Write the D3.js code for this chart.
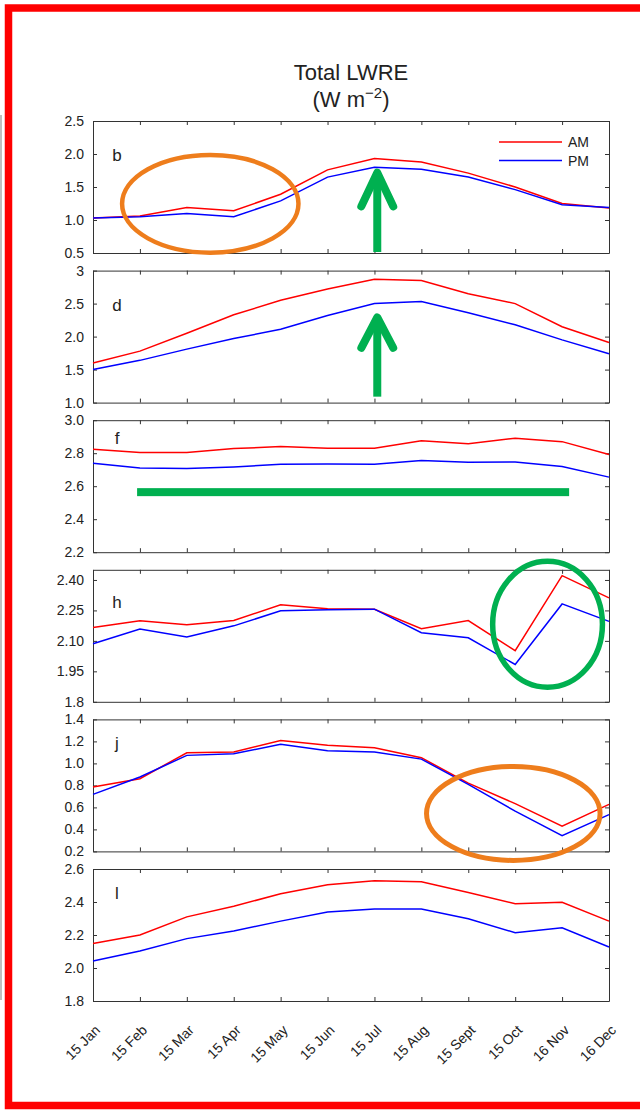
<!DOCTYPE html>
<head>
  <meta charset="utf-8">
  <script src="https://d3js.org/d3.v7.min.js"></script>
  <style>
    body { margin: 0; background: #fff; }
    svg text { font-family: "Liberation Sans", Arial, sans-serif; fill: #222; }
    .axis path, .axis line { stroke: #333; stroke-width: 1; }
    .axis text { font-size: 14px; fill: #222; }
  </style>
</head>
<body>
<div id="chart"></div>
<script>
// month labels on the x axis
var months = ["15 Jan", "15 Feb", "15 Mar", "15 Apr", "15 May", "15 Jun",
              "15 Jul", "15 Aug", "15 Sept", "15 Oct", "16 Nov", "16 Dec"];

// panel letters
var letters = ["b", "d", "f", "h", "j", "l"];

// AM / PM values per panel (W m-2)
var amB = [1.03, 1.06, 1.19, 1.14, 1.39, 1.76, 1.93, 1.88, 1.71, 1.50, 1.25, 1.18];
var pmB = [1.03, 1.05, 1.10, 1.05, 1.29, 1.65, 1.80, 1.77, 1.65, 1.46, 1.23, 1.19];
var amD = [1.60, 1.78, 2.05, 2.33, 2.55, 2.72, 2.87, 2.85, 2.65, 2.50, 2.15, 1.91];
var pmD = [1.50, 1.64, 1.81, 1.97, 2.11, 2.32, 2.50, 2.53, 2.36, 2.18, 1.95, 1.74];
var amF = [2.824, 2.804, 2.804, 2.828, 2.840, 2.830, 2.830, 2.875, 2.858, 2.891, 2.870, 2.792];
var pmF = [2.739, 2.711, 2.707, 2.717, 2.733, 2.735, 2.733, 2.756, 2.745, 2.747, 2.720, 2.655];
var amH = [2.166, 2.199, 2.179, 2.200, 2.278, 2.258, 2.256, 2.160, 2.200, 2.052, 2.421, 2.312];
var pmH = [2.086, 2.158, 2.119, 2.174, 2.248, 2.253, 2.256, 2.140, 2.115, 1.984, 2.282, 2.196];
var amJ = [0.785, 0.861, 1.097, 1.103, 1.209, 1.165, 1.143, 1.052, 0.82, 0.634, 0.430, 0.627];
var pmJ = [0.718, 0.876, 1.073, 1.088, 1.173, 1.115, 1.103, 1.039, 0.81, 0.566, 0.343, 0.534];
var amL = [2.148, 2.200, 2.310, 2.374, 2.450, 2.505, 2.529, 2.523, 2.458, 2.390, 2.398, 2.284];
var pmL = [2.043, 2.103, 2.178, 2.224, 2.284, 2.340, 2.358, 2.358, 2.298, 2.214, 2.244, 2.127];

// y domains and tick labels per panel
var yDomains = [[0.5, 2.5], [1.0, 3.0], [2.2, 3.0], [1.8, 2.45], [0.2, 1.4], [1.8, 2.6]];
var yTicks = [
  [0.5, 1.0, 1.5, 2.0, 2.5],
  [1.0, 1.5, 2.0, 2.5, 3.0],
  [2.2, 2.4, 2.6, 2.8, 3.0],
  [1.8, 1.95, 2.10, 2.25, 2.40],
  [0.2, 0.4, 0.6, 0.8, 1.0, 1.2, 1.4],
  [1.8, 2.0, 2.2, 2.4, 2.6]
];
var yTickLabels = [
  ["0.5", "1.0", "1.5", "2.0", "2.5"],
  ["1.0", "1.5", "2.0", "2.5", "3"],
  ["2.2", "2.4", "2.6", "2.8", "3.0"],
  ["1.8", "1.95", "2.10", "2.25", "2.40"],
  ["0.2", "0.4", "0.6", "0.8", "1.0", "1.2", "1.4"],
  ["1.8", "2.0", "2.2", "2.4", "2.6"]
];

var amSeries = [amB, amD, amF, amH, amJ, amL];
var pmSeries = [pmB, pmD, pmF, pmH, pmJ, pmL];

var width = 640, height = 1110;
var left = 93, right = 609, top0 = 121, panelH = 132, step = 149.6;
// letter offset below panel top
var letterDy = [34, 34, 18, 32, 24, 24];

var svg = d3.select("#chart").append("svg")
    .attr("width", width)
    .attr("height", height);

// red frame around the figure
svg.append("rect")
    .attr("x", 8.5).attr("y", 8)
    .attr("width", 700).attr("height", 1097.5)
    .attr("fill", "none")
    .attr("stroke", "#ff0000")
    .attr("stroke-width", 7.5);

// edge of the neighbouring figure
svg.append("line")
    .attr("x1", 1).attr("x2", 1).attr("y1", 115).attr("y2", 1000)
    .attr("stroke", "#aaa").attr("stroke-width", 1.5);

// title
svg.append("text")
    .attr("x", (left + right) / 2).attr("y", 80)
    .attr("text-anchor", "middle")
    .style("font-size", "22px")
    .text("Total LWRE");
var sub = svg.append("text")
    .attr("x", (left + right) / 2).attr("y", 107)
    .attr("text-anchor", "middle")
    .style("font-size", "22px");
sub.append("tspan").text("(W m");
sub.append("tspan").attr("dy", -9).style("font-size", "15px").text("\u22122");
sub.append("tspan").attr("dy", 9).text(")");

var x = d3.scaleLinear().domain([0, months.length - 1]).range([left, right]);
var scales = [];

letters.forEach(function(letter, i) {
  var top = top0 + i * step;
  var bottom = top + panelH;
  var y = d3.scaleLinear().domain(yDomains[i]).range([bottom, top]);
  scales.push(y);
  var g = svg.append("g");

  // box with inward ticks on all four sides
  g.append("g").attr("class", "axis")
      .attr("transform", "translate(0," + bottom + ")")
      .call(d3.axisBottom(x).ticks(12).tickSizeInner(-4).tickSizeOuter(0).tickFormat(""));
  g.append("g").attr("class", "axis")
      .attr("transform", "translate(0," + top + ")")
      .call(d3.axisTop(x).ticks(12).tickSizeInner(-4).tickSizeOuter(0).tickFormat(""));
  g.append("g").attr("class", "axis")
      .attr("transform", "translate(" + left + ",0)")
      .call(d3.axisLeft(y).tickValues(yTicks[i]).tickSizeInner(-4).tickSizeOuter(0)
        .tickPadding(9)
        .tickFormat(function(d, k) { return yTickLabels[i][k]; }));
  g.append("g").attr("class", "axis")
      .attr("transform", "translate(" + right + ",0)")
      .call(d3.axisRight(y).tickValues(yTicks[i]).tickSizeInner(-4).tickSizeOuter(0).tickFormat(""));

  var line = d3.line()
      .x(function(d, k) { return x(k); })
      .y(function(d) { return y(d); });

  g.append("path").datum(amSeries[i])
      .attr("d", line).attr("fill", "none")
      .attr("stroke", "#ff0000").attr("stroke-width", 1.5);
  g.append("path").datum(pmSeries[i])
      .attr("d", line).attr("fill", "none")
      .attr("stroke", "#0000ff").attr("stroke-width", 1.5);

  g.append("text")
      .attr("x", 117).attr("y", top + letterDy[i] + 6)
      .attr("text-anchor", "middle")
      .style("font-size", "17px")
      .text(letter);

  // month labels under the last panel
  if (i === letters.length - 1) {
    g.selectAll(".mlabel")
      .data(months)
      .enter().append("text")
      .attr("class", "mlabel")
      .attr("text-anchor", "end")
      .style("font-size", "14px")
      .attr("transform", function(d, k) {
        return "translate(" + (x(k) + 8) + "," + (bottom + 30) + ") rotate(-45)";
      })
      .text(function(d) { return d; });
  }
});

// legend in panel b
var legendData = [{ label: "AM", color: "#ff0000" }, { label: "PM", color: "#0000ff" }];
var legend = svg.selectAll(".legend")
    .data(legendData)
    .enter().append("g")
    .attr("class", "legend")
    .attr("transform", function(d, i) { return "translate(499," + (142 + i * 18.5) + ")"; });
legend.append("line")
    .attr("x1", 0).attr("x2", 63)
    .attr("stroke", function(d) { return d.color; })
    .attr("stroke-width", 1.5);
legend.append("text")
    .attr("x", 69).attr("y", 5)
    .style("font-size", "14px")
    .text(function(d) { return d.label; });

// highlight annotations, placed in data units
var orange = "#ee7d1c", green = "#00b050";
function ellipse(p, cx, cy, rx, ry, color, w) {
  var y = scales[p];
  svg.append("ellipse")
      .attr("cx", x(cx)).attr("cy", y(cy))
      .attr("rx", x(rx) - x(0)).attr("ry", y(0) - y(ry))
      .attr("fill", "none").attr("stroke", color).attr("stroke-width", w);
}
function arrow(p, xm, y0, y1, yw, dx) {
  var y = scales[p];
  var a = svg.append("g").attr("fill", "none").attr("stroke", green)
      .attr("stroke-width", 8).attr("stroke-linecap", "round").attr("stroke-linejoin", "round");
  a.append("line").attr("x1", x(xm)).attr("x2", x(xm)).attr("y1", y(y0)).attr("y2", y(y1) + 4)
      .attr("stroke-linecap", "butt");
  a.append("path").attr("d", "M" + x(xm - dx) + "," + y(yw) + "L" + x(xm) + "," + y(y1) +
      "L" + x(xm + dx) + "," + y(yw));
}

ellipse(0, 2.5, 1.245, 1.88, 0.74, orange, 4.5);
arrow(0, 6.06, 0.515, 1.718, 1.207, 0.34);
arrow(1, 6.06, 1.09, 2.29, 1.83, 0.34);
svg.append("rect")
    .attr("x", x(0.94)).attr("width", x(10.15) - x(0.94))
    .attr("y", scales[2](2.564) - 4).attr("height", 8)
    .attr("fill", green);
ellipse(3, 9.69, 2.182, 1.17, 0.31, green, 5.5);
ellipse(4, 8.96, 0.545, 1.85, 0.427, orange, 5);
</script>
</body>
</html>
